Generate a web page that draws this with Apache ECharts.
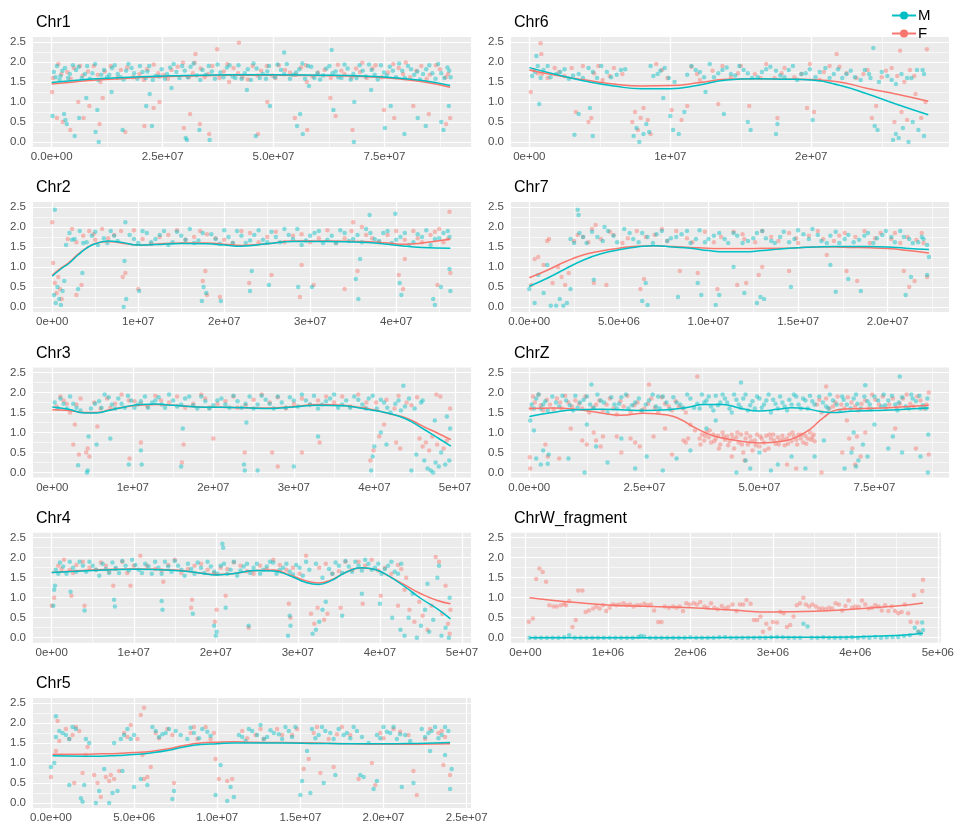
<!DOCTYPE html>
<html><head><meta charset="utf-8">
<script src="https://cdn.jsdelivr.net/npm/echarts@6/dist/echarts.min.js"></script>
<style>html,body{margin:0;padding:0;background:#fff}#c{width:957px;height:832px}</style>
</head><body><div id="c"></div>
<script>
// ---------- DATA (x in Mb, y = ratio) ----------
const yTicks = ["0.0","0.5","1.0","1.5","2.0","2.5"];
const chr1Ticks = ["0.0e+00","2.5e+07","5.0e+07","7.5e+07"];
const chr2Ticks = ["0e+00","1e+07","2e+07","3e+07","4e+07"];
const chr3Ticks = ["0e+00","1e+07","2e+07","3e+07","4e+07","5e+07"];
const chr4Ticks = ["0e+00","1e+07","2e+07","3e+07","4e+07","5e+07"];
const chr5Ticks = ["0.0e+00","5.0e+06","1.0e+07","1.5e+07","2.0e+07","2.5e+07"];
const chr6Ticks = ["0e+00","1e+07","2e+07"];
const chr7Ticks = ["0.0e+00","5.0e+06","1.0e+07","1.5e+07","2.0e+07"];
const chrZTicks = ["0.0e+00","2.5e+07","5.0e+07","7.5e+07"];
const chrWTicks = ["0e+00","1e+06","2e+06","3e+06","4e+06","5e+06"];

const chr1_M = [[0.5,1.75],[1.2,1.9],[2,1.65],[3,1.85],[4.1,1.7],[5.5,1.8],[6.8,1.6],[8,1.9],[9.2,1.72],[10.5,1.55],[11.8,1.8],[13,1.68],[14.2,1.92],[15.5,1.62],[16.8,1.78],[18,1.85],[19.3,1.58],[20.5,1.75],[22,1.9],[23.4,1.65],[24.8,1.82],[26,1.7],[27.5,1.95],[28.8,1.6],[30,1.78],[31.3,1.88],[32.7,1.66],[34,1.8],[35.4,1.9],[36.8,1.58],[38,1.74],[39.5,1.86],[40.8,1.64],[42.1,1.92],[43.5,1.72],[44.9,1.55],[46.2,1.84],[47.6,1.7],[49,1.9],[50.3,1.62],[51.7,1.8],[53,1.95],[54.4,1.68],[55.8,1.82],[57.1,1.58],[58.5,1.88],[59.9,1.72],[61.2,1.66],[62.6,1.9],[64,1.76],[65.3,1.6],[66.7,1.84],[68,1.7],[69.4,1.92],[70.8,1.64],[72.1,1.8],[73.5,1.56],[74.9,1.74],[76.2,1.88],[77.6,1.62],[79,1.78],[80.3,1.9],[81.7,1.68],[83,1.56],[84.4,1.82],[85.8,1.72],[87.1,1.95],[88.5,1.6],[89.6,1.78],
[1.8,1.55],[4.8,1.92],[7.5,1.7],[12.5,1.62],[17.3,1.95],[21.2,1.6],[25.5,1.58],[29.4,1.9],[33.5,1.55],[37.4,1.94],[41.4,1.6],[45.5,1.96],[48.3,1.58],[52.4,1.7],[56.5,1.96],[60.5,1.56],[63.3,1.72],[67.4,1.56],[71.5,1.94],[75.5,1.66],[78.3,1.96],[82.4,1.76],[86.5,1.58],[89.2,1.86],
[0.9,1.62],[2.4,1.78],[3.7,1.6],[6.1,1.88],[8.6,1.58],[9.8,1.95],[11.2,1.68],[13.6,1.85],[14.9,1.7],[16.2,1.56],[18.6,1.72],[19.9,1.9],[21.6,1.76],[22.8,1.55],[24.2,1.64],[26.7,1.86],[28.1,1.75],[30.7,1.62],[32,1.96],[34.7,1.68],[36.1,1.76],[38.7,1.62],[40.1,1.92],[42.8,1.58],[44.2,1.82],[46.9,1.6],[48.6,1.76],[50.9,1.94],[53.7,1.58],[55.1,1.74],[57.8,1.9],[59.2,1.6],[61.9,1.84],[64.6,1.62],[66,1.94],[68.7,1.6],[70.1,1.78],[72.8,1.68],[74.2,1.92],[76.9,1.78],[79.6,1.6],[81,1.82],[83.7,1.7],[85.1,1.92],[87.8,1.72],[89.9,1.62],
[0.2,0.65],[2.8,0.7],[3.1,0.55],[3.4,0.45],[5.2,0.15],[6.2,0.6],[7.8,1.1],[9.9,0.25],[10.3,0.8],[10.6,0.0],[16,0.3],[21.3,0.9],[22.1,1.2],[22.6,0.4],[30.2,0.1],[30.5,0.05],[33.3,0.3],[35.6,0.05],[46,0.15],[49.2,0.9],[52.4,2.24],[55.3,0.4],[56,0.7],[56.6,0.2],[63.1,2.3],[63.5,0.8],[68.1,0.0],[68.2,1.0],[75.1,0.35],[76.4,0.9],[79.5,0.2],[82.5,0.6],[84.3,0.4],[87.8,0.5],[88.3,0.3],[89.5,0.9],[13.5,1.25],[27,1.35],[44,1.3],[58,1.4],[72,1.3]];
const chr1_F = [[0.3,1.6],[1.5,1.95],[3.5,1.75],[5,1.85],[7,1.66],[9.5,1.9],[12,1.76],[14.8,1.6],[17,1.86],[19.8,1.7],[23,1.94],[25.2,1.68],[27,1.8],[29.6,1.98],[31.8,1.72],[34.5,1.62],[36.2,1.9],[38.8,1.76],[41,1.85],[43,1.62],[45.3,1.9],[47.2,1.78],[49.7,1.66],[51.2,1.92],[53.7,1.74],[56.2,1.86],[58.8,1.64],[61.5,1.8],[64.5,1.93],[66,1.7],[68.6,1.84],[71,1.6],[73,1.92],[75.8,1.74],[78.2,1.85],[80.8,1.62],[83.3,1.9],[85.2,1.68],[87.5,1.82],[89.3,1.7],[11,1.5],[20.8,1.55],[32.2,1.98],[40,1.5],[57.5,1.5],[70,1.98],[79.8,1.99],
[2.2,1.7],[4.3,1.58],[6.4,1.9],[8.2,1.76],[10.4,1.68],[13.3,1.9],[15.6,1.8],[18.4,1.62],[21.5,1.82],[24,1.72],[26.2,1.58],[28.4,1.88],[30.9,1.62],[33.6,1.84],[35.3,1.7],[37.8,1.6],[39.6,1.95],[42,1.72],[44.2,1.56],[46.4,1.66],[48.5,1.9],[50.4,1.6],[52.6,1.8],[55,1.68],[57.3,1.92],[60,1.74],[62.9,1.6],[65.3,1.78],[67.6,1.62],[69.5,1.75],[72.3,1.84],[74.4,1.62],[77,1.95],[79.2,1.7],[82.2,1.78],[84.5,1.58],[86.6,1.92],[88.8,1.62],
[0.1,1.25],[1.2,0.6],[2.5,0.5],[4.2,0.3],[6,1.0],[7.2,0.6],[8.5,0.9],[10.8,0.45],[11.5,1.1],[16.6,0.25],[20.9,0.4],[23,0.85],[24.3,1.0],[29.8,0.35],[31.2,0.7],[32.4,2.2],[33.4,0.45],[35.5,0.2],[37.3,2.32],[42.2,2.48],[46.5,0.2],[48.6,1.0],[54.8,0.6],[57.6,0.3],[62.8,1.1],[64,0.65],[67.8,0.3],[74.9,0.8],[77.2,0.6],[81.5,0.9],[85,0.7],[88.9,0.45],[89.8,0.6]];
const chr1_Mfit = [[0,1.49],[5,1.54],[10,1.58],[20,1.63],[30,1.66],[40,1.68],[50,1.68],[60,1.67],[70,1.65],[78,1.6],[84,1.53],[89.8,1.41]];
const chr1_Ffit = [[0,1.45],[5,1.5],[10,1.55],[20,1.61],[30,1.65],[40,1.67],[50,1.67],[60,1.66],[70,1.64],[78,1.58],[84,1.5],[89.8,1.37]];

const chr6_M = [[0.2,1.65],[0.6,1.9],[1,1.8],[1.5,1.62],[2.2,1.75],[2.8,1.58],[3.5,1.7],[4.2,1.85],[4.8,1.6],[5.5,1.75],[6.2,1.68],[6.8,1.82],[8.6,1.9],[9.1,1.7],[9.6,1.85],[10.3,1.5],[11.2,1.68],[11.8,1.8],[12.4,1.62],[12.8,1.95],[13.4,1.72],[14,1.86],[14.6,1.66],[15.2,1.8],[15.8,1.6],[16.5,1.75],[17.1,1.88],[17.8,1.66],[18.4,1.8],[19,1.55],[19.6,1.72],[20.3,1.62],[21,1.85],[21.6,1.7],[22.2,1.6],[22.8,1.78],[23.5,1.55],[24.1,1.7],[24.8,1.5],[25.4,1.65],[26,1.45],[26.8,1.6],[27.5,1.8],[28,1.7],
[0.4,1.75],[0.8,1.6],[1.3,1.9],[1.9,1.7],[2.5,1.82],[3.1,1.66],[3.8,1.6],[4.5,1.75],[5.1,1.9],[5.8,1.62],[6.5,1.8],[8.8,1.65],[9.3,1.78],[9.9,1.6],[11.5,1.9],[12.1,1.75],[13.1,1.62],[13.7,1.8],[14.3,1.7],[14.9,1.9],[15.5,1.72],[16.2,1.62],[16.8,1.82],[17.5,1.78],[18.1,1.62],[18.7,1.9],[19.3,1.7],[19.9,1.82],[20.6,1.75],[21.3,1.6],[21.9,1.82],[22.5,1.7],[23.1,1.62],[23.8,1.8],[24.2,1.6],[25,1.75],[25.7,1.55],[26.4,1.7],[27.1,1.6],
[0.5,2.15],[0.7,0.95],[3.2,0.18],[3.5,0.7],[4.3,0.85],[4.5,0.15],[7.4,0.15],[7.6,0.35],[7.8,0.0],[8.1,0.2],[8.3,0.45],[8.5,0.25],[10,0.65],[10.2,0.3],[10.6,0.2],[11,0.75],[13.8,0.7],[15.5,0.5],[15.7,0.3],[17.5,0.2],[17.6,0.45],[20.1,0.55],[24.4,2.35],[24.5,0.4],[24.7,0.3],[25.8,0.05],[26,0.2],[26.2,0.1],[26.5,0.35],[26.9,0.0],[27.2,0.5],[27.6,0.3],[28,0.15],[27.9,1.8],[9.5,1.1],[12.5,1.25]];
const chr6_F = [[0.3,1.8],[0.9,1.7],[1.8,1.85],[2.5,1.65],[3.8,1.9],[4.6,1.72],[5.2,1.55],[6,1.85],[6.6,1.7],[9,1.95],[9.8,1.6],[11.5,1.88],[12.1,1.55],[13,1.78],[14.3,1.62],[15,1.9],[16,1.7],[16.8,1.95],[17.4,1.6],[18.1,1.85],[19.3,1.7],[19.9,1.95],[20.6,1.55],[21.3,1.9],[22.5,1.72],[23.2,1.6],[24,1.8],[25,1.62],[25.7,1.85],[26.6,1.5],[27.3,1.65],
[0.6,1.72],[1.3,1.6],[2.1,1.75],[3,1.85],[4.9,1.9],[5.7,1.65],[9.4,1.8],[11.9,1.7],[13.7,1.9],[14.8,1.72],[16.4,1.6],[17.9,1.72],[18.8,1.62],[20.9,1.75],[22,1.88],[23.7,1.7],[25.3,1.78],[26.1,1.65],[27,1.8],
[0.1,1.25],[0.8,2.47],[0.85,2.2],[3.3,0.75],[4.2,0.5],[4.4,0.6],[7.3,0.5],[7.5,0.75],[7.7,0.3],[7.9,0.6],[8.1,0.85],[8.4,0.55],[8.6,0.2],[10.1,0.8],[10.8,0.55],[11.2,0.9],[13.4,0.95],[15.6,0.9],[17.6,0.6],[19.7,0.85],[20.2,0.75],[21.8,2.2],[24.3,0.6],[24.6,0.9],[25.9,0.5],[26.3,2.28],[26.4,0.75],[26.8,0.55],[27.4,1.2],[27.8,0.6],[28.2,2.32],[28.1,1.0]];
const chr6_Mfit = [[0,1.86],[2,1.68],[4,1.52],[6,1.4],[8,1.33],[10,1.33],[12,1.42],[14,1.55],[16,1.58],[18,1.57],[20,1.55],[22,1.42],[24,1.2],[26,0.95],[28.3,0.68]];
const chr6_Ffit = [[0,1.8],[2,1.66],[4,1.55],[6,1.45],[8,1.4],[10,1.41],[12,1.48],[14,1.57],[16,1.58],[18,1.57],[20,1.56],[22,1.5],[24,1.34],[26,1.2],[28.3,1.02]];

const chr2_M = [[1.6,1.55],[2,1.85],[2.6,1.7],[3.2,1.9],[4,1.62],[4.6,1.78],[5.3,1.55],[6,1.72],[6.8,1.9],[7.6,1.65],[9,1.8],[10,1.6],[11,1.85],[12,1.7],[13,1.9],[14,1.62],[15,1.78],[16,1.95],[17,1.66],[18.5,1.82],[19.5,1.58],[20.5,1.75],[21.5,1.9],[22.5,1.6],[23.5,1.8],[24.5,1.68],[25.5,1.88],[26.5,1.62],[27.5,1.8],[28.5,1.95],[29.5,1.66],[30.5,1.85],[31.5,1.6],[32.5,1.78],[33.5,1.92],[34.5,1.65],[35.5,1.8],[36.5,1.95],[37.5,1.7],[38.5,1.85],[39.5,1.6],[40.5,1.75],[41.5,1.55],[42.5,1.82],[43.5,1.92],[44.5,1.7],[45.5,1.85],[46.2,1.75],
[2.3,1.68],[3.6,1.6],[5,1.88],[6.4,1.6],[7.2,1.78],[9.5,1.7],[10.5,1.9],[11.5,1.62],[12.5,1.8],[13.5,1.55],[14.5,1.88],[15.5,1.68],[16.5,1.6],[17.5,1.85],[19,1.7],[20,1.92],[21,1.6],[22,1.78],[23,1.66],[24,1.92],[25,1.62],[26,1.75],[27,1.95],[28,1.7],[29,1.55],[30,1.78],[31,1.9],[32,1.68],[33,1.6],[34,1.85],[35,1.7],[36,1.62],[37,1.85],[38,1.65],[39,1.9],[40,1.68],[41,1.85],[42,1.62],[43,1.75],[44,1.55],[45,1.72],[46,1.9],
[0.2,0.3],[0.4,0.1],[0.6,0.5],[0.8,0.2],[1,0.05],[1.2,0.4],[1.4,0.65],[0.3,2.43],[3,0.45],[3.5,0.85],[8.3,0.0],[8.4,1.15],[8.5,2.12],[8.6,0.2],[10.1,0.4],[17.4,0.15],[17.6,0.5],[17.9,0.35],[19.6,0.15],[23,0.4],[23.2,0.9],[25.2,0.55],[28.6,0.5],[30.2,0.5],[35.3,0.7],[35.6,0.2],[35.8,1.2],[36.9,2.3],[39.9,2.33],[40.4,0.6],[40.6,0.3],[44.3,0.2],[44.5,0.05],[45.2,0.5],[46.3,0.4],[46.2,0.95]];
const chr2_F = [[1.8,1.7],[2.3,1.95],[3.6,1.78],[4.3,1.9],[5,1.68],[5.8,1.95],[7.2,1.8],[9.5,1.92],[10.5,1.7],[11.5,1.58],[13.5,1.8],[15.5,1.68],[17.2,1.9],[19,1.72],[21,1.6],[23,1.85],[25,1.75],[27,1.62],[29,1.82],[31,1.72],[33,1.6],[34.8,1.9],[36,2.0],[37.2,1.72],[39,1.8],[41,1.68],[42,1.9],[43,1.62],[44,1.8],[45,1.95],[46,1.7],
[2.8,1.62],[4.8,1.82],[6.5,1.72],[8,1.9],[12.5,1.75],[14.5,1.92],[16.5,1.75],[18,1.82],[20,1.68],[22,1.9],[24,1.62],[26,1.88],[28,1.78],[30,1.62],[32,1.92],[34,1.72],[36.5,1.8],[38,1.62],[40,1.9],[42.5,1.72],[44.5,1.88],[45.5,1.62],
[0,2.12],[0.1,1.1],[0.3,0.6],[0.5,0.35],[0.7,0.75],[0.9,0.45],[1.1,0.2],[2.8,0.3],[3.4,0.55],[8.2,0.75],[8.5,0.85],[10,0.45],[17.5,0.65],[17.8,0.9],[18,0.3],[19.5,0.25],[22.9,0.6],[25.5,0.8],[28.8,0.25],[29,1.05],[30.4,0.55],[34,0.45],[35,2.12],[35.5,0.9],[40.3,0.8],[40.8,0.45],[41,1.2],[44.8,0.55],[46.2,2.38],[46.3,0.85]];
const chr2_Mfit = [[0,0.77],[1,0.95],[2,1.1],[3,1.3],[4,1.47],[5,1.58],[6.5,1.65],[8,1.62],[10,1.55],[12,1.56],[15,1.59],[18,1.58],[20,1.55],[22,1.52],[25,1.58],[28,1.64],[32,1.64],[36,1.62],[39,1.57],[41,1.52],[43,1.49],[46.3,1.47]];
const chr2_Ffit = [[0,0.79],[1,0.97],[2,1.12],[3,1.32],[4,1.48],[5,1.59],[6.5,1.64],[8,1.6],[10,1.55],[12,1.57],[15,1.6],[18,1.6],[20,1.57],[22,1.54],[25,1.58],[28,1.65],[32,1.65],[36,1.64],[39,1.6],[41,1.57],[43,1.6],[46.3,1.7]];

const chr7_M = [[2.3,1.7],[2.8,1.85],[3.2,1.6],[3.8,1.75],[4.4,1.9],[4.9,1.62],[5.3,1.95],[5.8,1.7],[6.3,1.85],[6.9,1.6],[7.4,1.9],[7.9,1.72],[8.5,1.82],[9,1.6],[9.5,1.92],[10,1.7],[10.6,1.85],[11.1,1.6],[11.6,1.78],[12.2,1.65],[12.7,1.85],[13.2,1.72],[13.7,1.6],[14.2,1.88],[14.8,1.7],[15.3,1.82],[15.8,1.95],[16.3,1.65],[16.8,1.78],[17.3,1.6],[17.8,1.8],[18.4,1.68],[18.9,1.85],[19.4,1.72],[19.9,1.9],[20.4,1.62],[20.9,1.75],[21.4,1.6],[21.9,1.75],[22.2,1.55],
[2.5,1.6],[3,1.75],[3.5,1.88],[4.1,1.65],[4.7,1.78],[5.6,1.85],[6.1,1.62],[6.6,1.75],[7.1,1.82],[7.7,1.65],[8.2,1.75],[8.8,1.9],[9.3,1.7],[9.8,1.62],[10.3,1.78],[10.9,1.7],[11.4,1.85],[11.9,1.6],[12.5,1.72],[13,1.9],[13.5,1.65],[14,1.75],[14.5,1.62],[15,1.92],[15.6,1.7],[16.1,1.8],[16.6,1.6],[17.1,1.88],[17.6,1.7],[18.1,1.62],[18.7,1.78],[19.2,1.6],[19.7,1.8],[20.2,1.75],[20.7,1.9],[21.2,1.7],[21.7,1.62],[22,1.7],
[0,0.45],[0.3,0.1],[0.5,0.8],[0.8,0.35],[1.2,0.03],[1.5,0.03],[1.7,0.2],[1.9,0.03],[2.1,0.1],[2.3,0.45],[1.0,1.05],[2.7,2.43],[2.75,2.3],[3.6,0.68],[4.2,2.0],[6.3,0.15],[6.6,0.05],[6.5,0.6],[8.3,0.25],[9.4,0.6],[9.6,0.3],[10.4,0.05],[10.6,0.3],[11.4,1.0],[12,0.35],[12.7,0.1],[12.9,0.25],[13.1,0.2],[14.6,0.5],[16.8,1.05],[17.1,0.38],[17.8,0.7],[18.5,0.4],[21,0.3],[21.3,0.75],[22.2,0.8],[22.3,1.25]];
const chr7_F = [[2.5,1.65],[3,1.75],[3.5,1.95],[4,1.7],[4.7,1.8],[5.5,1.72],[6,1.9],[7,1.8],[7.7,1.65],[8.2,1.9],[8.8,1.72],[9.8,1.88],[10.3,1.62],[11.4,1.88],[12,1.7],[13,1.9],[13.9,1.65],[14.5,1.85],[15,1.6],[15.6,1.78],[16.1,1.9],[17,1.65],[17.6,1.85],[18.2,1.75],[19,1.6],[19.6,1.85],[20.2,1.7],[20.7,1.6],[21.6,1.68],[22,1.6],
[2.7,1.8],[3.3,1.62],[4.5,1.88],[5.2,1.6],[6.5,1.75],[7.4,1.95],[9.1,1.62],[10.7,1.75],[11.9,1.82],[12.6,1.62],[13.5,1.75],[14.9,1.72],[16.4,1.7],[17.3,1.78],[18.7,1.9],[19.3,1.72],[20.4,1.85],[21.1,1.75],[21.9,1.85],
[0.1,0.55],[0.3,1.2],[0.5,1.25],[0.8,1.05],[1.0,1.65],[1.1,1.7],[1.3,0.6],[1.6,1.0],[1.8,0.75],[2.0,0.55],[2.2,0.85],[3.7,2.05],[3.6,0.6],[4.3,0.55],[6.2,0.45],[6.4,0.7],[8.4,0.9],[9.4,0.85],[10.5,0.45],[11.6,0.55],[12.1,0.6],[12.8,0.8],[13,1.0],[14.5,0.9],[16.6,1.3],[17.7,0.9],[18.3,0.65],[20.9,0.9],[21.2,0.5],[21.5,0.65],[22.2,0.75]];
const chr7_Mfit = [[0,0.52],[1,0.72],[2,0.95],[3,1.17],[4,1.33],[5,1.43],[6,1.5],[7,1.53],[8,1.5],[9,1.47],[10,1.41],[11,1.38],[12,1.38],[13,1.41],[14,1.45],[15,1.48],[16,1.5],[17,1.51],[18,1.51],[19,1.51],[20,1.5],[21,1.47],[22.3,1.44]];
const chr7_Ffit = [[0,0.73],[1,0.92],[2,1.13],[3,1.3],[4,1.4],[5,1.47],[6,1.52],[7,1.53],[8,1.51],[9,1.49],[10,1.47],[11,1.46],[12,1.46],[13,1.47],[14,1.47],[15,1.48],[16,1.5],[17,1.5],[18,1.49],[19,1.48],[20,1.46],[21,1.42],[22.3,1.35]];

const chr3_M = [[0.3,1.75],[1,1.85],[1.8,1.6],[2.6,1.72],[3.5,1.55],[4.8,1.6],[5.8,1.78],[6.5,1.95],[7.4,1.7],[8.2,1.85],[9,1.62],[9.8,1.8],[10.6,1.7],[11.5,1.9],[12.4,1.75],[13.2,1.88],[14,1.62],[15,1.8],[16,1.7],[17,1.9],[18,1.6],[19,1.78],[20,1.68],[21,1.85],[22,1.62],[23,1.78],[24.5,1.9],[25.5,1.7],[26.5,1.82],[27.5,1.6],[28.5,1.75],[29.5,1.88],[30.5,1.65],[31.5,1.8],[32.5,1.92],[33.5,1.7],[34.5,1.85],[35.5,1.62],[36.5,1.8],[37.5,1.9],[38.5,1.7],[39.3,1.85],[40.3,1.6],[41.2,1.75],[42,1.5],[43,1.8],[43.8,1.65],[44.3,1.85],[45,1.6],[45.8,1.75],
[0.7,1.6],[1.4,1.72],[2.2,1.9],[3,1.62],[5.3,1.72],[6.1,1.62],[7,1.88],[7.8,1.6],[8.6,1.72],[9.4,1.92],[10.2,1.62],[11,1.78],[11.9,1.62],[12.8,1.8],[13.6,1.7],[14.5,1.95],[15.5,1.65],[16.5,1.85],[17.5,1.68],[18.5,1.9],[19.5,1.6],[20.5,1.8],[21.5,1.7],[22.5,1.92],[23.5,1.62],[24,1.72],[25,1.6],[26,1.92],[27,1.72],[28,1.9],[29,1.62],[30,1.8],[31,1.95],[32,1.7],[33,1.6],[34,1.78],[35,1.95],[36,1.7],[37,1.62],[38,1.82],[39,1.6],[39.8,1.92],[40.8,1.82],[41.6,1.62],[42.6,1.72],[43.3,1.55],
[3.2,0.18],[4.3,0.0],[4.4,0.05],[4.5,0.9],[5.5,0.7],[7.2,0.85],[9.5,0.2],[11,0.55],[11.1,0.2],[16,0.15],[16.2,1.1],[23.8,0.2],[23.9,0.05],[24.1,1.25],[25.5,0.05],[30,0.15],[33,0.9],[39.6,0.05],[39.8,0.4],[40,0.65],[40.8,1.0],[41.5,0.7],[43.6,2.17],[44.6,0.05],[45.2,0.45],[46.2,0.3],[46.6,0.1],[47,0.05],[47.3,0.0],[47.6,0.25],[48,0.15],[48.3,0.5],[48.8,0.2],[49,1.4],[49.3,0.3],[49.4,1.1],[47.5,1.3],[46,1.8]];
const chr3_F = [[0.5,1.65],[1.4,1.8],[2.2,1.5],[3,1.7],[5.2,1.75],[6,1.6],[6.8,1.85],[7.8,1.72],[8.6,1.95],[10.2,1.78],[11.8,1.65],[12.8,1.92],[14.5,1.75],[15.5,1.9],[17.5,1.72],[18.5,1.95],[19.5,1.62],[21.5,1.78],[22.5,1.9],[24,1.68],[26,1.95],[27,1.75],[29,1.6],[31,1.85],[32,1.7],[34,1.9],[35,1.75],[37,1.65],[38,1.95],[39,1.75],[41.5,1.82],[42.5,1.6],[44,1.75],[45.3,1.88],
[1,1.9],[1.8,1.72],[3.5,1.85],[7.2,1.62],[9.5,1.8],[11,1.72],[13.5,1.8],[16.5,1.62],[19,1.85],[20.5,1.72],[23,1.62],[25,1.82],[28,1.88],[30,1.72],[33,1.8],[36,1.9],[38.8,1.62],[40.2,1.75],[43,1.92],[44.6,1.68],
[2.6,0.7],[2.8,1.2],[3.3,0.45],[4.2,0.5],[4.4,0.6],[4.6,0.4],[5.6,1.15],[9.6,0.35],[11,0.75],[16.1,0.25],[16.3,0.7],[20,0.85],[23.9,0.5],[27.3,0.5],[28,0.15],[31,0.5],[33.2,0.75],[39.5,0.3],[39.9,0.55],[40.6,0.9],[41.2,1.2],[42.7,0.75],[43.2,0.6],[45.6,0.85],[46,0.65],[46.4,0.75],[46.8,0.55],[47.2,0.9],[47.8,0.7],[48.2,1.9],[48.6,0.6],[49,0.8],[49.4,1.6],[47.7,1.95]];
const chr3_Mfit = [[0,1.64],[2,1.58],[4,1.49],[5.5,1.49],[7,1.55],[9,1.64],[11,1.7],[13,1.71],[15,1.68],[18,1.64],[21,1.63],[24,1.62],[27,1.6],[30,1.64],[33,1.68],[36,1.67],[38,1.62],[40,1.55],[42,1.47],[44,1.33],[46,1.1],[48,0.85],[49.5,0.66]];
const chr3_Ffit = [[0,1.57],[2,1.55],[4,1.5],[5.5,1.5],[7,1.56],[9,1.64],[11,1.69],[13,1.7],[15,1.68],[18,1.64],[21,1.63],[24,1.62],[27,1.61],[30,1.65],[33,1.7],[36,1.68],[38,1.63],[40,1.56],[42,1.46],[44,1.36],[46,1.16],[48,0.97],[49.5,0.82]];

const chrZ_M = [[0.5,1.7],[1.5,1.85],[2.5,1.6],[3.5,1.78],[5,1.9],[6.5,1.65],[8,1.8],[9.5,1.55],[11,1.75],[12.5,1.9],[14,1.62],[15.5,1.8],[17,1.5],[18.5,1.7],[20,1.88],[21.5,1.6],[23,1.75],[24.5,1.55],[26,1.8],[27.5,1.65],[29,1.9],[30.5,1.58],[32,1.75],[33.5,1.62],[35,1.85],[36.5,1.72],[37.5,1.95],[38.5,1.8],[39.5,1.65],[40.5,1.92],[41.5,1.75],[42.5,1.85],[43.5,1.6],[44.5,1.95],[45.5,1.7],[46.5,1.85],[47.5,1.55],[48.5,1.78],[49.5,1.9],[50.5,1.62],[51.5,1.8],[52.5,1.5],[53.5,1.72],[54.5,1.9],[55.5,1.65],[56.5,1.82],[57.5,1.95],[58.5,1.7],[59.5,1.85],[60.5,1.6],[61.5,1.78],[63,1.9],[64.5,1.65],[66,1.8],[67.5,1.55],[69,1.7],[70.5,1.85],[72,1.6],[73.5,1.78],[75,1.9],[76.5,1.65],[78,1.8],[79.5,1.7],[81,1.88],[82.5,1.6],[84,1.78],[85.5,1.68],[86.5,1.85],
[37,1.6],[38,1.75],[39,1.9],[40,1.55],[41,1.68],[42,1.95],[43,1.75],[44,1.5],[45,1.82],[46,1.62],[47,1.95],[48,1.68],[49,1.6],[50,1.85],[51,1.7],[52,1.95],[53,1.82],[54,1.6],[55,1.75],[56,1.55],[57,1.7],[58,1.9],[59,1.6],[60,1.8],[61,1.92],[62,1.7],
[4,1.55],[10,1.92],[19,1.6],[28,1.9],[65,1.6],[68,1.9],[71,1.95],[74,1.7],[77,1.95],[80,1.55],[83,1.95],[85,1.6],
[1,1.6],[2,1.95],[3,1.7],[5.8,1.75],[7.2,1.92],[8.8,1.68],[10.5,1.62],[11.8,1.82],[13.2,1.7],[14.8,1.95],[16.2,1.75],[17.8,1.88],[19.5,1.72],[21,1.95],[22.3,1.68],[23.8,1.85],[25.3,1.7],[26.8,1.95],[28.3,1.6],[29.8,1.75],[31.3,1.88],[32.8,1.7],[34.3,1.95],[35.8,1.62],[63.8,1.75],[65.3,1.95],[66.8,1.7],[68.3,1.82],[69.8,1.6],[71.3,1.72],[72.8,1.9],[74.3,1.58],[75.8,1.8],[77.3,1.68],[78.8,1.92],[80.3,1.75],[81.8,1.65],[83.3,1.85],[84.8,1.92],[86.2,1.6],
[0.2,1.3],[1,1.05],[1.5,0.35],[2.5,0.2],[3,0.55],[4,0.22],[4.2,0.45],[8.5,0.35],[12,0.0],[12.5,1.2],[13.5,2.2],[14.5,0.65],[17,0.25],[20,0.85],[23,0.1],[25.5,0.4],[29,0.05],[32,0.35],[35,0.55],[38.5,1.1],[40.5,1.3],[45,0.0],[46,2.25],[47,0.3],[48,0.1],[50,0.5],[52.5,0.05],[54,0.2],[57,0.4],[60,0.1],[62,0.4],[64,0.8],[68.5,0.1],[70,0.5],[70.5,1.0],[71,0.15],[71.5,0.3],[72.5,0.7],[73,2.18],[73.5,0.4],[75,1.2],[78,0.6],[79,0.9],[80.5,2.4],[81,0.5],[85,0.4],[86.6,0.0],[86.7,0.95]];
const chrZ_F = [[0.3,1.6],[1.2,1.75],[2,1.95],[3,1.55],[4.5,1.7],[6,1.85],[7,1.6],[8.5,1.75],[10,1.8],[11.5,1.6],[13,1.5],[14.5,1.7],[16,1.55],[17.5,1.85],[19,1.45],[20.5,1.65],[22,1.5],[23.5,1.75],[25,1.6],[26.5,1.85],[28,1.5],[29.5,1.72],[31,1.55],[32.5,1.65],[34,1.5],[62.5,1.7],[63.5,1.5],[64.5,1.85],[66,1.65],[67,1.9],[68.5,1.6],[70,1.75],[71.5,1.55],[73,1.8],[74.5,1.95],[76,1.7],[77.5,1.6],[79,1.85],[80.5,1.72],[82,1.95],[83.5,1.65],[85,1.8],[86.3,1.7],
[0.8,1.9],[2.5,1.68],[3.8,1.82],[5.3,1.58],[6.7,1.75],[7.8,1.92],[9.3,1.65],[10.8,1.72],[12.2,1.9],[13.8,1.62],[15.2,1.8],[16.8,1.7],[18.3,1.6],[19.8,1.78],[21.3,1.92],[22.8,1.68],[24.3,1.55],[25.8,1.72],[27.3,1.62],[28.8,1.88],[30.3,1.65],[31.8,1.78],[33.3,1.6],[63,1.82],[65.2,1.6],[66.5,1.75],[67.8,1.7],[69.2,1.88],[70.8,1.65],[72.2,1.72],[73.7,1.6],[75.2,1.82],[76.8,1.9],[78.2,1.7],[79.8,1.62],[81.2,1.85],[82.8,1.72],[84.3,1.9],[85.8,1.6],
[37,0.85],[37.5,0.95],[38,0.8],[38.5,1.0],[39,0.88],[39.5,0.75],[40,0.95],[40.5,0.85],[41,0.92],[41.5,0.7],[42,1.0],[42.5,0.82],[43,0.9],[43.5,0.78],[44,0.95],[44.5,0.6],[45,0.88],[45.5,0.75],[46,0.95],[46.5,0.5],[47,0.85],[47.5,0.7],[48,0.9],[48.5,0.55],[49,0.8],[49.5,0.95],[50,0.65],[50.5,0.85],[51,0.75],[51.5,0.92],[52,0.6],[52.5,0.85],[53,0.95],[53.5,0.72],[54,0.88],[54.5,0.8],[55,0.92],[55.5,0.68],[56,0.85],[56.5,0.95],[57,0.78],[57.5,0.9],[58,0.82],[58.5,0.95],[59,0.85],[59.5,0.75],[60,0.92],[60.5,0.85],[61,1.0],[61.5,0.88],[62,0.78],
[37.2,0.7],[38.2,0.92],[39.2,1.05],[40.2,0.78],[41.2,0.6],[42.2,0.9],[43.2,0.68],[44.2,0.85],[45.2,1.0],[46.2,0.7],[47.2,0.98],[48.2,0.78],[49.2,0.68],[50.2,0.9],[51.2,0.55],[52.2,0.95],[53.2,0.8],[54.2,0.7],[55.2,0.82],[56.2,0.72],[57.2,1.0],[58.2,0.7],[59.2,0.95],[60.2,0.72],[61.2,0.82],[61.8,0.95],
[0.1,0.38],[0.2,0.1],[3.5,0.7],[4,0.4],[6.5,0.35],[9,1.1],[11.5,0.8],[12.5,0.7],[14,1.0],[14.5,0.8],[15.5,0.65],[16,0.9],[19,0.9],[20,0.5],[22,0.85],[23,0.75],[24,0.65],[26,2.2],[27,0.9],[29.5,1.1],[31,0.45],[33.5,0.8],[34,0.75],[34.5,0.85],[35,1.2],[36.5,2.4],[36,1.05],[44,0.4],[46.8,0.3],[56,0.2],[58,0.1],[63.5,0.0],[64.5,2.15],[68,0.5],[69,1.3],[69.5,0.85],[70.2,0.6],[70.8,0.2],[71.2,0.9],[72,0.4],[73,1.0],[79.5,1.1],[84,0.6],[86.8,0.45],[86.8,2.0]];
const chrZ_Mfit = [[0,1.4],[5,1.5],[10,1.57],[15,1.58],[20,1.57],[25,1.55],[30,1.57],[34,1.62],[38,1.7],[42,1.7],[46,1.6],[50,1.54],[54,1.58],[57,1.62],[60,1.6],[63,1.53],[66,1.5],[70,1.53],[75,1.55],[80,1.57],[86.8,1.61]];
const chrZ_Ffit = [[0,1.6],[5,1.61],[10,1.58],[15,1.5],[20,1.43],[25,1.48],[30,1.44],[33,1.32],[36,1.12],[40,0.92],[45,0.8],[50,0.74],[55,0.78],[58,0.88],[61,1.08],[64,1.38],[67,1.57],[72,1.6],[78,1.62],[86.8,1.68]];

const chr4_M = [[0.5,1.7],[1,1.88],[1.8,1.6],[2.6,1.75],[3.4,1.9],[4.2,1.65],[5,1.8],[5.8,1.55],[6.6,1.72],[7.4,1.88],[8.2,1.62],[9,1.8],[9.8,1.95],[10.6,1.7],[11.4,1.85],[12.2,1.6],[13,1.75],[13.8,1.9],[14.6,1.65],[15.4,1.8],[16.2,1.55],[17,1.72],[17.8,1.88],[18.6,1.62],[19.4,1.78],[20.2,1.6],[21,1.85],[21.8,1.7],[22.6,1.55],[23.4,1.78],[24.2,1.62],[25,1.85],[25.8,1.7],[26.6,1.9],[27.4,1.6],[28.2,1.75],[29,1.65],[29.8,1.82],[30.6,1.55],[31.4,1.7],[32.2,1.85],[33,1.5],[33.8,1.72],[34.6,1.88],[35.4,1.62],[36.2,1.78],[37,1.9],[37.8,1.68],[38.6,1.85],[39.4,1.75],[40.2,1.6],[41,1.8],[41.8,1.65],[42.6,1.85],
[0.8,1.6],[1.4,1.78],[2.2,1.9],[3,1.65],[3.8,1.8],[4.6,1.9],[5.4,1.7],[6.2,1.85],[7,1.62],[7.8,1.75],[8.6,1.92],[9.4,1.68],[10.2,1.82],[11,1.62],[11.8,1.78],[12.6,1.9],[13.4,1.6],[14.2,1.78],[15,1.92],[15.8,1.7],[16.6,1.85],[17.4,1.6],[18.2,1.75],[19,1.9],[19.8,1.65],[20.6,1.8],[21.4,1.6],[22.2,1.9],[23,1.68],[23.8,1.85],[24.6,1.75],[25.4,1.6],[26.2,1.78],[27,1.88],[27.8,1.7],[28.6,1.85],[29.4,1.58],[30.2,1.75],[31,1.9],[34.2,1.6],[35,1.8],[35.8,1.92],[36.6,1.65],[37.4,1.8],[38.2,1.95],[39,1.7],[39.8,1.85],[40.6,1.72],[41.4,1.9],[42.2,1.6],
[0.2,0.8],[0.3,1.2],[0.4,1.3],[2.3,1.15],[4,0.68],[7.6,0.95],[7.7,0.78],[13.5,0.7],[13.4,0.92],[17.2,0.6],[19.8,0.3],[20,0.05],[20.1,0.15],[20.8,2.35],[20.9,2.25],[21.2,0.75],[24,0.3],[28.8,0.05],[29,0.55],[29.1,0.3],[31.8,0.1],[32.2,0.2],[32.6,0.4],[33,0.7],[33.4,0.9],[35.4,0.55],[37.8,1.1],[40,0.85],[41.5,0.5],[42.5,0.2],[43,0.05],[43.5,0.5],[44,1.1],[44.5,0.0],[45,0.3],[45.5,0.7],[46,0.15],[46.5,0.45],[47,1.5],[47.5,0.05],[48,0.25],[48.4,0.0],[48.5,1.0],[47.2,1.8],[45.8,1.35]];
const chr4_F = [[0.8,1.8],[1.5,1.95],[2.2,1.7],[3,1.82],[4.6,1.75],[6,1.88],[7,1.65],[8.6,1.9],[10,1.8],[10.8,2.05],[12.6,1.72],[14.2,1.82],[15.8,1.62],[17.4,1.8],[19,1.7],[20.6,1.75],[22.2,1.88],[23.8,1.66],[25.4,1.8],[27,1.95],[28.6,1.7],[30.2,1.6],[31,2.05],[32.6,1.75],[34.2,1.6],[35.8,1.9],[36.6,1.7],[38.2,1.8],[39,1.95],[40.6,1.75],[41.4,1.6],[42.2,1.82],[43.2,1.5],
[1.2,1.72],[2.6,1.62],[3.8,1.9],[5.4,1.7],[6.6,1.8],[7.8,1.72],[9.2,1.62],[11.6,1.8],[13.4,1.68],[15,1.95],[16.6,1.72],[18.2,1.85],[19.8,1.62],[21.4,1.72],[23,1.8],[24.6,1.6],[26.2,1.72],[27.8,1.82],[29.4,1.75],[33.4,1.85],[35,1.66],[37.4,1.9],[39.8,1.68],[42.6,1.72],
[0,0.8],[0.3,1.0],[2.4,1.05],[4,0.8],[7.5,1.3],[9.6,1.3],[13.6,1.4],[17,0.75],[17.1,0.95],[19.9,0.4],[20.1,0.7],[21.2,1.05],[24,0.25],[28.9,0.85],[29.1,0.5],[31.6,0.6],[32,0.35],[32.4,0.75],[33.2,0.45],[33.6,0.6],[35.2,0.75],[37.9,0.85],[40.1,1.05],[42.2,0.8],[43,1.2],[43.6,0.7],[44.2,0.4],[44.8,0.9],[45.2,0.55],[45.8,0.2],[46.3,0.8],[46.8,2.02],[47.2,1.9],[47.6,0.6],[48,1.3],[48.3,0.35],[48.5,0.1],[48.6,0.7]];
const chr4_Mfit = [[0,1.63],[5,1.68],[10,1.71],[15,1.68],[18,1.62],[20,1.57],[22,1.6],[25,1.68],[27,1.67],[29,1.55],[31,1.38],[32.5,1.33],[34,1.42],[36,1.65],[37.8,1.75],[39.5,1.7],[41,1.55],[43,1.28],[45,0.98],[47,0.72],[48.6,0.47]];
const chr4_Ffit = [[0,1.63],[5,1.69],[10,1.72],[15,1.69],[18,1.62],[20,1.58],[22,1.6],[25,1.68],[27,1.69],[29,1.57],[31,1.42],[32.5,1.37],[34,1.44],[36,1.65],[37.8,1.74],[39.5,1.7],[41,1.55],[43,1.32],[45,1.1],[47,0.93],[48.6,0.85]];

const chrW_M = [[0.05,0.0],[0.12,0.0],[0.19,0.0],[0.26,0.0],[0.33,0.0],[0.4,0.0],[0.47,0.01],[0.53,0.06],[0.6,0.0],[0.67,0.0],[0.74,0.0],[0.81,0.0],[0.88,0.0],[0.95,0.0],[1.02,0.0],[1.09,0.0],[1.16,0.0],[1.23,0.0],[1.3,0.0],[1.37,0.02],[1.4,0.04],[1.44,0.03],[1.51,0.0],[1.58,0.0],[1.65,0.0],[1.72,0.0],[1.79,0.0],[1.86,0.0],[1.93,0.0],[2.0,0.01],[2.07,0.0],[2.14,0.0],[2.21,0.0],[2.28,0.0],[2.35,0.01],[2.42,0.02],[2.49,0.0],[2.56,0.0],[2.63,0.0],[2.7,0.0],[2.77,0.0],[2.84,0.0],[2.91,0.0],[2.98,0.01],[3.05,0.02],[3.12,0.01],[3.19,0.0],[3.26,0.0],[3.33,0.0],[3.37,0.35],[3.42,0.28],[3.47,0.0],[3.54,0.0],[3.61,0.01],[3.68,0.0],[3.75,0.0],[3.82,0.0],[3.89,0.0],[3.96,0.01],[4.03,0.0],[4.1,0.01],[4.17,0.0],[4.24,0.02],[4.31,0.0],[4.38,0.01],[4.45,0.02],[4.52,0.02],[4.59,0.04],[4.66,0.06],[4.72,0.25],[4.76,0.15],[4.79,0.1],[4.81,0.38],[4.82,0.19]];
const chrW_F = [[0.04,0.4],[0.09,0.48],[0.13,1.47],[0.17,1.73],[0.21,1.64],[0.25,1.4],[0.29,0.81],[0.34,0.78],[0.38,0.78],[0.43,0.81],[0.47,0.85],[0.49,0.81],[0.53,0.92],[0.57,0.27],[0.61,0.44],[0.64,1.18],[0.69,1.18],[0.73,0.64],[0.77,0.68],[0.82,0.73],[0.86,0.78],[0.9,0.73],[0.94,0.81],[0.98,0.67],[1.02,0.75],[1.06,0.83],[1.1,0.81],[1.14,0.83],[1.19,0.86],[1.23,0.81],[1.27,0.83],[1.31,0.78],[1.35,0.81],[1.39,0.81],[1.44,0.85],[1.48,0.81],[1.52,0.83],[1.56,0.68],[1.61,0.39],[1.65,0.39],[1.69,0.78],[1.74,0.75],[1.79,0.78],[1.83,0.75],[1.87,0.78],[1.91,0.67],[1.95,0.86],[1.99,0.83],[2.04,0.86],[2.08,0.83],[2.12,0.89],[2.17,0.78],[2.21,0.75],[2.25,0.86],[2.29,0.75],[2.33,0.71],[2.38,0.79],[2.42,0.73],[2.46,0.77],[2.51,0.83],[2.56,0.67],[2.6,0.83],[2.64,0.83],[2.68,0.94],[2.73,0.85],[2.77,0.44],[2.81,0.44],[2.85,0.53],[2.88,0.15],[2.92,0.35],[2.96,0.23],[3.0,0.39],[3.05,0.38],[3.09,0.65],[3.13,0.61],[3.17,0.27],[3.21,0.32],[3.25,0.53],[3.29,0.81],[3.33,0.86],[3.37,1.0],[3.4,0.83],[3.44,0.78],[3.48,0.83],[3.52,0.78],[3.56,0.73],[3.6,0.73],[3.64,0.71],[3.68,0.75],[3.72,0.73],[3.76,0.86],[3.8,0.83],[3.84,0.68],[3.88,0.79],[3.92,0.93],[3.96,0.75],[4.0,0.78],[4.04,0.77],[4.08,0.93],[4.12,0.83],[4.16,0.73],[4.2,0.75],[4.24,0.81],[4.28,0.78],[4.32,0.68],[4.36,0.81],[4.4,0.67],[4.44,0.78],[4.48,0.67],[4.52,0.61],[4.56,0.64],[4.6,0.83],[4.64,0.61],[4.67,0.4],[4.71,1.06],[4.75,0.38],[4.77,0.15],[4.81,1.17],[4.82,1.45]];
const chrW_Mfit = [[0.05,0.0],[1,0.0],[2,0.0],[3,0.01],[3.5,0.01],[4,0.02],[4.3,0.04],[4.6,0.07],[4.82,0.11]];
const chrW_Ffit = [[0.05,1.0],[0.5,0.9],[1,0.82],[1.5,0.78],[2,0.75],[2.5,0.69],[3,0.64],[3.5,0.66],[4,0.72],[4.5,0.79],[4.82,0.87]];

const chr5_M = [[0.3,1.65],[0.7,1.75],[1.1,1.6],[1.5,1.85],[2.3,1.5],[4.2,1.6],[4.6,1.85],[5,1.7],[6.1,1.9],[6.5,1.65],[6.9,1.75],[7.5,1.8],[8.2,1.6],[8.6,1.75],[9.1,1.85],[9.6,1.68],[11.3,1.7],[11.7,1.55],[12.1,1.8],[12.6,1.95],[13,1.65],[13.4,1.75],[13.9,1.6],[14.3,1.8],[14.7,1.9],[15.7,1.85],[16.1,1.7],[16.5,1.8],[17,1.6],[17.3,1.85],[17.8,1.75],[18.2,1.9],[18.7,1.65],[19.1,1.5],[19.6,1.7],[20,1.9],[20.4,1.75],[20.8,1.6],[21.3,1.7],[21.6,1.55],[22.3,1.85],[22.7,1.75],[23.1,1.9],[23.5,1.7],[23.9,1.8],
[0.5,1.8],[0.9,1.7],[1.3,1.9],[2.1,1.6],[4.4,1.7],[4.8,1.6],[6.3,1.8],[6.7,1.72],[7.1,1.85],[7.8,1.7],[8.4,1.88],[8.9,1.62],[9.4,1.78],[11.5,1.65],[11.9,1.85],[12.4,1.7],[12.8,1.6],[13.2,1.82],[13.7,1.72],[14.1,1.9],[14.5,1.65],[15.9,1.62],[16.3,1.9],[16.8,1.75],[17.6,1.7],[18,1.62],[18.4,1.8],[19.8,1.62],[20.2,1.78],[20.6,1.9],[21,1.72],[22.5,1.65],[22.9,1.8],[23.3,1.62],[23.7,1.9],
[0,0.9],[0.3,2.17],[0.2,1.0],[1.1,0.45],[1.8,0.12],[1.9,0.03],[2.0,0.45],[2.7,0.0],[2.9,0.3],[3.2,0.85],[3.5,0.0],[3.7,0.25],[3.8,1.5],[4.0,0.3],[4.3,0.8],[5.0,0.4],[5.4,0.6],[5.8,0.45],[7.3,0.1],[7.4,0.3],[9.9,0.2],[10.2,0.95],[10.6,0.05],[10.8,0.4],[11.0,0.15],[15,0.2],[15.1,0.55],[15.4,1.3],[15.6,0.25],[16.4,0.5],[17.1,0.7],[18.6,0.7],[18.8,0.65],[19.4,0.35],[19.6,0.55],[21.1,0.4],[21.8,0.5],[22.8,1.3],[23.7,1.2],[24,0.35],[24.1,0.85]];
const chr5_F = [[0.5,1.55],[0.9,1.85],[1.3,1.7],[1.7,1.8],[2.2,1.4],[4.4,1.75],[4.8,1.95],[5.2,1.6],[6.3,1.75],[7,1.85],[8.4,1.75],[8.8,1.6],[9.3,1.9],[9.8,1.75],[11.5,1.8],[12.3,1.7],[12.8,1.6],[13.6,1.85],[14.5,1.7],[15.8,1.75],[16.7,1.6],[17.5,1.9],[18,1.7],[19.8,1.75],[20.6,1.85],[21.5,1.7],[22.5,1.6],[23.3,1.75],[23.7,1.65],
[1.1,1.6],[1.5,1.9],[4.6,1.65],[6.5,1.62],[7.3,1.7],[8.6,1.9],[9.6,1.6],[11.8,1.62],[12.6,1.85],[13.9,1.7],[14.8,1.85],[16,1.9],[17.2,1.72],[20,1.62],[21,1.78],[22.8,1.85],[23.5,1.8],
[0,0.65],[0.4,2.05],[0.3,1.3],[1.4,0.5],[1.9,0.75],[2.1,1.2],[2.6,0.7],[2.8,0.5],[3.0,0.15],[3.3,0.65],[3.5,0.55],[3.6,0.7],[3.8,0.6],[4.1,0.8],[5.4,2.2],[5.6,2.38],[5.5,1.2],[5.6,0.6],[5.8,0.65],[6,0.9],[7.4,0.5],[9.9,1.1],[10.1,0.6],[10.6,0.55],[10.9,0.6],[15.2,0.85],[15.5,1.1],[16.2,0.75],[17,0.9],[18.5,0.6],[19.3,1.0],[19.5,0.45],[21.8,0.8],[22,0.2],[23.6,0.95],[24,0.7]];
const chr5_Mfit = [[0.1,1.18],[2,1.17],[3,1.17],[4,1.19],[5,1.21],[6,1.25],[7,1.31],[8,1.4],[9,1.46],[10,1.48],[11,1.5],[12,1.5],[14,1.5],[16,1.49],[18,1.48],[20,1.48],[22,1.49],[24,1.51]];
const chr5_Ffit = [[0.1,1.22],[2,1.22],[3,1.23],[4,1.24],[5,1.26],[6,1.29],[7,1.35],[8,1.44],[9,1.5],[10,1.52],[11,1.53],[12,1.52],[14,1.51],[16,1.5],[18,1.48],[20,1.47],[22,1.47],[24,1.48]];

// ---------- LAYOUT ----------
const COLM = '#00BFC4', COLF = '#F8766D';
const panels = [
  {name:'Chr1', ticks:chr1Ticks, M:chr1_M, F:chr1_F, Mf:chr1_Mfit, Ff:chr1_Ffit, left:33, top:37, xr:[-4.2,94.5]},
  {name:'Chr2', ticks:chr2Ticks, M:chr2_M, F:chr2_F, Mf:chr2_Mfit, Ff:chr2_Ffit, left:33, top:202, xr:[-2.24,48.7]},
  {name:'Chr3', ticks:chr3Ticks, M:chr3_M, F:chr3_F, Mf:chr3_Mfit, Ff:chr3_Ffit, left:33, top:367.5, xr:[-2.4,52.0]},
  {name:'Chr4', ticks:chr4Ticks, M:chr4_M, F:chr4_F, Mf:chr4_Mfit, Ff:chr4_Ffit, left:33, top:532.7, xr:[-2.28,51.1]},
  {name:'Chr5', ticks:chr5Ticks, M:chr5_M, F:chr5_F, Mf:chr5_Mfit, Ff:chr5_Ffit, left:33, top:698, xr:[-1.08,25.26]},
  {name:'Chr6', ticks:chr6Ticks, M:chr6_M, F:chr6_F, Mf:chr6_Mfit, Ff:chr6_Ffit, left:511, top:37, xr:[-1.3,29.77]},
  {name:'Chr7', ticks:chr7Ticks, M:chr7_M, F:chr7_F, Mf:chr7_Mfit, Ff:chr7_Ffit, left:511, top:202, xr:[-1.02,23.42]},
  {name:'ChrZ', ticks:chrZTicks, M:chrZ_M, F:chrZ_F, Mf:chrZ_Mfit, Ff:chrZ_Ffit, left:511, top:367.5, xr:[-3.98,91.2]},
  {name:'ChrW_fragment', ticks:chrWTicks, M:chrW_M, F:chrW_F, Mf:chrW_Mfit, Ff:chrW_Ffit, left:511, top:532.7, xr:[-0.175,5.04]}
];
const GW = 438, GH = 110, YR = [-0.125, 2.625];
const FONT = 'Liberation Sans, Arial, Helvetica, sans-serif';
const yVals = yTicks.map(Number);

function minors(vals, lo, hi) {
  const step = vals[1] - vals[0], out = [];
  for (let i = -1; i < vals.length; i++) {
    const v = (i < 0 ? vals[0] - step : vals[i]) + step / 2;
    if (v > lo && v < hi) out.push(v);
  }
  return out;
}

const option = {
  animation: false,
  backgroundColor: '#ffffff',
  title: [], grid: [], xAxis: [], yAxis: [], series: [],
  legend: {
    data: ['M', 'F'], orient: 'vertical', left: 886, top: 3,
    itemWidth: 24, itemHeight: 10, itemGap: 3,
    textStyle: {fontSize: 15, color: '#000', fontFamily: FONT, padding: [0,0,0,-3]}
  }
};

panels.forEach((p, i) => {
  const xVals = p.ticks.map(s => Number(s) / 1e6);
  option.title.push({text: p.name, left: p.left - 2, top: p.top - 27,
    textStyle: {fontSize: 16, fontWeight: 'normal', color: '#000', fontFamily: FONT}});
  option.grid.push({left: p.left, top: p.top, width: GW, height: GH, show: true,
    backgroundColor: '#EBEBEB', borderWidth: 0});
  option.xAxis.push({type: 'value', gridIndex: i, min: p.xr[0], max: p.xr[1],
    axisLine: {show: false}, splitLine: {show: false},
    axisTick: {show: true, length: 3, lineStyle: {color: '#333', width: 1}, customValues: xVals},
    axisLabel: {customValues: xVals, color: '#4D4D4D', fontSize: 11.5, fontFamily: FONT, margin: 4,
      formatter: v => { const k = xVals.findIndex(u => Math.abs(u - v) < 1e-6); return k >= 0 ? p.ticks[k] : ''; }}
  });
  option.yAxis.push({type: 'value', gridIndex: i, min: YR[0], max: YR[1],
    axisLine: {show: false}, splitLine: {show: false},
    axisTick: {show: true, length: 3, lineStyle: {color: '#333', width: 1}, customValues: yVals},
    axisLabel: {customValues: yVals, color: '#4D4D4D', fontSize: 11.5, fontFamily: FONT, margin: 7,
      formatter: v => { const k = yVals.findIndex(u => Math.abs(u - v) < 1e-6); return k >= 0 ? yTicks[k] : ''; }}
  });
  const ml = [];
  minors(xVals, p.xr[0], p.xr[1]).forEach(v => ml.push({xAxis: v, lineStyle: {width: 0.6}}));
  minors(yVals, YR[0], YR[1]).forEach(v => ml.push({yAxis: v, lineStyle: {width: 0.6}}));
  xVals.forEach(v => ml.push({xAxis: v, lineStyle: {width: 1.2}}));
  yVals.forEach(v => ml.push({yAxis: v, lineStyle: {width: 1.2}}));
  option.series.push({type: 'line', name: 'grid' + i, xAxisIndex: i, yAxisIndex: i, data: [], z: 1, silent: true,
    markLine: {silent: true, z: 1, zlevel: 0, symbol: ['none', 'none'], label: {show: false}, animation: false,
      lineStyle: {color: '#FFFFFF', type: 'solid'}, emphasis: {disabled: true}, data: ml}});
  option.series.push({type: 'scatter', name: 'F pts', xAxisIndex: i, yAxisIndex: i, data: p.F, z: 3,
    symbolSize: 4.5, itemStyle: {color: COLF, opacity: 0.45}, silent: true});
  option.series.push({type: 'scatter', name: 'M pts', xAxisIndex: i, yAxisIndex: i, data: p.M, z: 3,
    symbolSize: 4.5, itemStyle: {color: COLM, opacity: 0.45}, silent: true});
  option.series.push({type: 'line', name: 'F fit', xAxisIndex: i, yAxisIndex: i, data: p.Ff, z: 4,
    smooth: true, showSymbol: false, lineStyle: {color: COLF, width: 1.5}, silent: true});
  option.series.push({type: 'line', name: 'M fit', xAxisIndex: i, yAxisIndex: i, data: p.Mf, z: 4,
    smooth: true, showSymbol: false, lineStyle: {color: COLM, width: 1.5}, silent: true});
});
option.series.push({type: 'line', name: 'M', xAxisIndex: 0, yAxisIndex: 0, data: [], symbol: 'circle', symbolSize: 7,
  itemStyle: {color: COLM}, lineStyle: {color: COLM, width: 2.5}});
option.series.push({type: 'line', name: 'F', xAxisIndex: 0, yAxisIndex: 0, data: [], symbol: 'circle', symbolSize: 7,
  itemStyle: {color: COLF}, lineStyle: {color: COLF, width: 2.5}});

const chart = echarts.init(document.getElementById('c'), null, {renderer: 'canvas'});
chart.setOption(option);
</script>
</body></html>
